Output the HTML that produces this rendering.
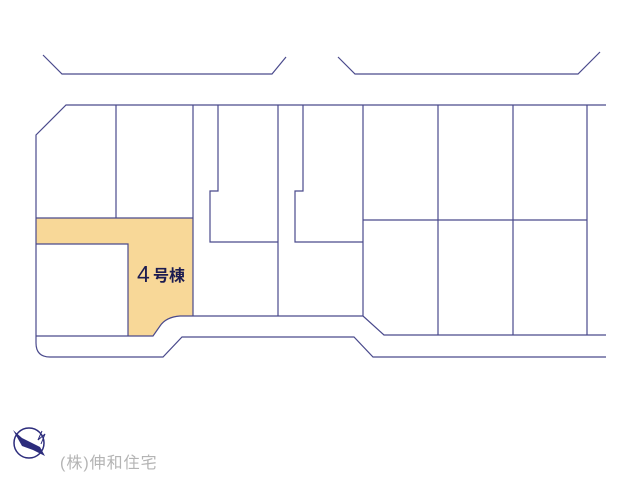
<!DOCTYPE html>
<html><head><meta charset="utf-8"><style>
html,body{margin:0;padding:0;background:#fff;width:640px;height:480px;overflow:hidden}
</style></head><body>
<svg width="640" height="480" viewBox="0 0 640 480" xmlns="http://www.w3.org/2000/svg" font-family="Liberation Sans, Noto Sans CJK JP, sans-serif">
<g fill="none" stroke="#4a4a8c" stroke-width="1.2">
<path d="M43,55 L62,74 L272,74 L286,57"/>
<path d="M338,57 L355,74 L578,74 L600,52"/>
</g>
<path d="M36,218 L193,218 L193,316 L180,316 Q166,317 160,326 L153,336 L128,336 L128,244 L36,244 Z" fill="#f8d898"/>
<g fill="none" stroke="#4a4a8c" stroke-width="1.2">
<path d="M606,105 L66,105 L36,135 L36,343 Q36,357 50,357 L163,357 L182,337 L354,337 L373,357 L606,357"/>
<path d="M36,336 L153,336 L160,326 Q166,317 180,316 L363,316 L384,335 L606,335"/>
<path d="M36,218 L193,218 M36,244 L128,244 L128,336"/>
<path d="M116,105 L116,218 M193,105 L193,316"/>
<path d="M218,105 L218,191 L210,191 L210,242 L278,242 M278,105 L278,316"/>
<path d="M303,105 L303,191 L295,191 L295,242 L363,242 M363,105 L363,316"/>
<path d="M363,220 L587,220 M438,105 L438,335 M513,105 L513,335 M587,105 L587,335"/>
</g>
<text x="137" y="282" font-size="23" fill="#1c1c50">4</text>
<text x="153" y="281" font-size="16" fill="#1c1c50" font-weight="bold">号棟</text>
<g>
<circle cx="29" cy="443" r="15" fill="none" stroke="#2c2c7c" stroke-width="1.5"/>
<path d="M13,430 L22,438 L40,447 L45,456 L33,450 L22,446 Z" fill="#2c2c7c"/>
<path d="M42,431 L38,440 L45,434 L41,444" fill="none" stroke="#2c2c7c" stroke-width="1"/>
</g>
<text x="60" y="468" font-size="16" fill="#b4b4b4" letter-spacing="1">(株)伸和住宅</text>
</svg>
</body></html>
